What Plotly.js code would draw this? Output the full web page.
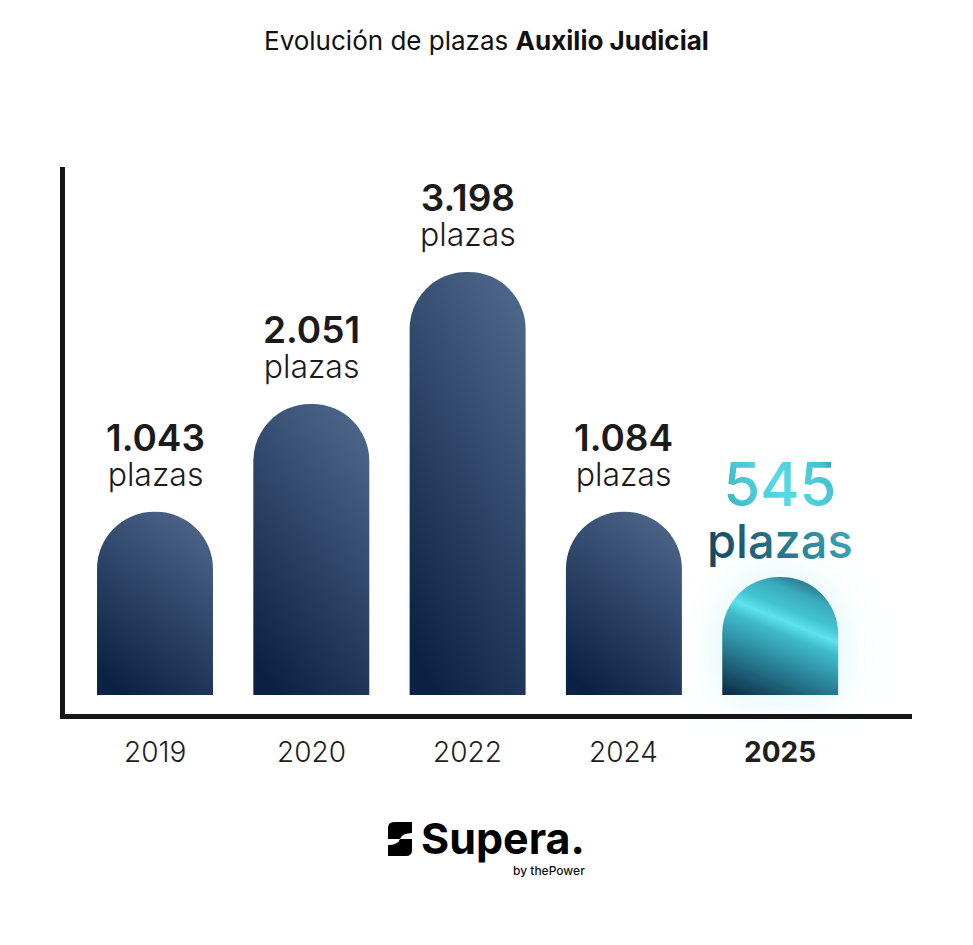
<!DOCTYPE html>
<html>
<head>
<meta charset="utf-8">
<script src="https://cdn.plot.ly/plotly-3.0.1.min.js"></script>
<style>
  html, body { margin: 0; padding: 0; background: #ffffff; }
  #chart { width: 973px; height: 945px; }
</style>
</head>
<body>
<svg width="0" height="0" style="position:absolute">
  <defs>
    <linearGradient id="gNavy" x1="0.25" y1="1" x2="0.75" y2="0">
      <stop offset="0" stop-color="#0c2245"/>
      <stop offset="1" stop-color="#4b6487"/>
    </linearGradient>
    <linearGradient id="gTeal" x1="0" y1="1" x2="0.48" y2="-0.21">
      <stop offset="0" stop-color="#0a2840"/>
      <stop offset="0.3" stop-color="#287f95"/>
      <stop offset="0.52" stop-color="#3fbccb"/>
      <stop offset="0.6" stop-color="#5fe3eb"/>
      <stop offset="0.68" stop-color="#42c3d1"/>
      <stop offset="0.8" stop-color="#3aaabb"/>
      <stop offset="1" stop-color="#15405f"/>
    </linearGradient>
    <linearGradient id="gNum" x1="0" y1="0.5" x2="1" y2="0.1">
      <stop offset="0" stop-color="#36a9ba"/>
      <stop offset="0.5" stop-color="#56dbe4"/>
      <stop offset="0.8" stop-color="#45c4d1"/>
      <stop offset="1" stop-color="#225d78"/>
    </linearGradient>
    <linearGradient id="gTxt" x1="0" y1="0.8" x2="1" y2="0.5">
      <stop offset="0" stop-color="#154660"/>
      <stop offset="0.5" stop-color="#287a8f"/>
      <stop offset="1" stop-color="#3eaebd"/>
    </linearGradient>
    <filter id="glow" x="-80%" y="-80%" width="260%" height="260%">
      <feGaussianBlur in="SourceAlpha" stdDeviation="24" result="b"/>
      <feFlood flood-color="#a6e8ee" flood-opacity="0.42"/>
      <feComposite in2="b" operator="in" result="g"/>
      <feMerge><feMergeNode in="g"/><feMergeNode in="SourceGraphic"/></feMerge>
    </filter>
  </defs>
</svg>
<div id="chart"></div>
<script>
// ---- data ----
const years = ['2019', '2020', '2022', '2024', '2025'];
const plazas = [1043, 2051, 3198, 1084, 545];
// bar heights as drawn in the infographic (tallest bar = 100)
const barHeights = [43.3, 68.8, 100, 43.3, 27.9];
const unitLabel = 'plazas';
const titleText = 'Evolución de plazas <b>Auxilio Judicial</b>';

// ---- helpers ----
const W = 973, H = 945;
const FONT = 'Inter, "Open Sans", sans-serif';
function fmt(n) { return String(n).replace(/\B(?=(\d{3})+(?!\d))/g, '.'); }
function P(px, py) { return (px / W).toFixed(5) + ',' + (1 - py / H).toFixed(5); }

const last = years.length - 1;

const trace = {
  type: 'bar',
  x: years,
  y: barHeights,
  width: 0.742,
  marker: {
    color: years.map((y, i) => i === last ? '#3fbccb' : '#2c4468'),
    cornerradius: '50%',
    line: { width: 0 }
  },
  hoverinfo: 'skip'
};

const annotations = [];
// title
annotations.push({
  xref: 'paper', yref: 'paper', x: 486 / W, y: 1 - 40 / H,
  xanchor: 'center', yanchor: 'middle', showarrow: false,
  text: titleText, font: { family: FONT, size: 26, color: '#111111' }
});
// value labels (number + unit in one text block)
years.forEach((yr, i) => {
  const big = i === last;
  const txt = big
    ? '<span style="font-size:60px;font-weight:500">' + fmt(plazas[i]) + '</span><br>' +
      '<span style="font-size:47px;font-weight:500">' + unitLabel + '</span>'
    : '<span style="font-size:37px;font-weight:600">' + fmt(plazas[i]) + '</span><br>' +
      '<span style="font-size:32px;font-weight:300">' + unitLabel + '</span>';
  annotations.push({
    xref: 'x', yref: 'y', x: i, y: barHeights[i],
    xanchor: 'center', yanchor: 'middle', showarrow: false,
    yshift: big ? 68 : 57,
    text: txt,
    font: { family: FONT, size: big ? 40 : 27, color: big ? '#45c4d1' : '#1b1b1b' }
  });
});
// year labels
years.forEach((yr, i) => {
  annotations.push({
    xref: 'x', yref: 'paper', x: i, y: 1 - 752 / H,
    xanchor: 'center', yanchor: 'middle', showarrow: false,
    text: i === last ? '<b>' + yr + '</b>' : yr,
    font: { family: FONT, size: 28, color: '#1e1e1e', weight: i === last ? 700 : 300 }
  });
});
// logo texts
annotations.push({
  xref: 'paper', yref: 'paper', x: 419 / W, y: 1 - 838 / H,
  xanchor: 'left', yanchor: 'middle', showarrow: false,
  text: '<b>Supera.</b>', font: { family: FONT, size: 43, color: '#000000', weight: 700 }
});
annotations.push({
  xref: 'paper', yref: 'paper', x: 587 / W, y: 1 - 870 / H,
  xanchor: 'right', yanchor: 'middle', showarrow: false,
  text: 'by thePower', font: { family: FONT, size: 12, color: '#111111', weight: 500 }
});

const shapes = [
  // axis lines
  { type: 'line', xref: 'paper', yref: 'paper', x0: 62.5 / W, x1: 62.5 / W, y0: 1 - 167 / H, y1: 1 - 719 / H,
    line: { color: '#161616', width: 5 } },
  { type: 'line', xref: 'paper', yref: 'paper', x0: 60 / W, x1: 912 / W, y0: 1 - 716.5 / H, y1: 1 - 716.5 / H,
    line: { color: '#161616', width: 5 } },
  // logo icon (upper and lower blocks of the S)
  { type: 'path', xref: 'paper', yref: 'paper', fillcolor: '#000000', line: { width: 0 },
    path: 'M' + P(394, 822) + ' L' + P(412, 822) + ' L' + P(412, 833) + ' Q' + P(402, 833) + ' ' + P(400, 839) +
          ' L' + P(388, 839) + ' L' + P(388, 828) + ' Q' + P(388, 822) + ' ' + P(394, 822) + ' Z' },
  { type: 'path', xref: 'paper', yref: 'paper', fillcolor: '#000000', line: { width: 0 },
    path: 'M' + P(388, 845) + ' Q' + P(398, 845) + ' ' + P(400, 839) + ' L' + P(412, 839) + ' L' + P(412, 850) +
          ' Q' + P(412, 856) + ' ' + P(406, 856) + ' L' + P(388, 856) + ' Z' }
];

// axes: bar centres ≈ 155 + 156.3*i px, base 0 at 695 px, 4.23 px per unit
const hiddenAxis = { showline: false, showgrid: false, zeroline: false, showticklabels: false, ticks: '', fixedrange: true };
const layout = {
  width: W, height: H,
  margin: { l: 0, r: 0, t: 0, b: 0 },
  paper_bgcolor: '#ffffff', plot_bgcolor: '#ffffff',
  showlegend: false,
  xaxis: Object.assign({ type: 'category', range: [-0.9917, 5.2335] }, hiddenAxis),
  yaxis: Object.assign({ range: [-59.10, 164.30] }, hiddenAxis),
  annotations: annotations,
  shapes: shapes
};

Plotly.newPlot('chart', [trace], layout, { staticPlot: true, displayModeBar: false }).then(() => {
  const paths = document.querySelectorAll('#chart .barlayer .point path');
  paths.forEach((p, i) => {
    p.style.fill = i === last ? 'url(#gTeal)' : 'url(#gNavy)';
    if (i === last) p.setAttribute('filter', 'url(#glow)');
  });
  // gradient text for the highlighted year
  const ann = document.querySelector('#chart .annotation[data-index="' + (1 + last) + '"] .annotation-text');
  if (ann) {
    const lines = ann.querySelectorAll('tspan.line');
    if (lines.length >= 2) {
      lines[0].querySelectorAll('tspan').forEach(s => s.style.fill = 'url(#gNum)');
      lines[0].style.fill = 'url(#gNum)';
      lines[1].querySelectorAll('tspan').forEach(s => s.style.fill = 'url(#gTxt)');
      lines[1].style.fill = 'url(#gTxt)';
    }
  }
});
</script>
</body>
</html>
